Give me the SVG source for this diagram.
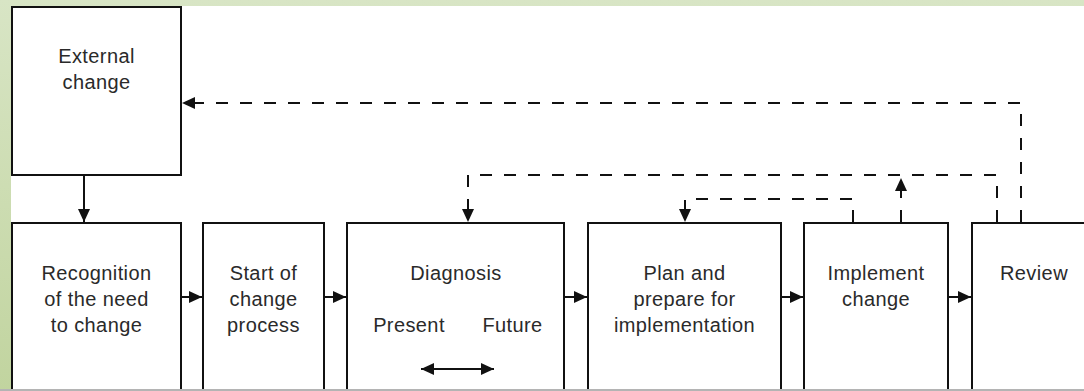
<svg xmlns="http://www.w3.org/2000/svg" width="1084" height="391" viewBox="0 0 1084 391">
  <defs>
    <linearGradient id="bg" x1="0" y1="0" x2="0" y2="1">
      <stop offset="0" stop-color="#d8e5c5"/>
      <stop offset="1" stop-color="#c1d49f"/>
    </linearGradient>
    <marker id="arr" markerUnits="userSpaceOnUse" markerWidth="13" markerHeight="12" refX="13" refY="6" orient="auto-start-reverse">
      <path d="M0,0 L13,6 L0,12 Z" fill="#111"/>
    </marker>
    <style>
      .box { fill: #fff; stroke: #111; stroke-width: 2; }
      .t { font-family: "Liberation Sans", Arial, sans-serif; font-size: 20px; letter-spacing: 0.4px; fill: #2a2a2a; text-anchor: middle; }
      .solid { fill: none; stroke: #111; stroke-width: 2; }
      .dash { fill: none; stroke: #111; stroke-width: 2; stroke-dasharray: 12 12; }
    </style>
  </defs>
  <rect x="0" y="0" width="1084" height="391" fill="url(#bg)"/>
  <rect x="11" y="6" width="1073" height="383" fill="#fff"/>

  <g id="external-change">
    <rect class="box" x="12" y="7" width="169" height="168"/>
    <text class="t" x="96.5" y="63">External</text>
    <text class="t" x="96.5" y="89">change</text>
  </g>
  <g id="recognition">
    <rect class="box" x="12" y="223" width="169" height="200"/>
    <text class="t" x="96.5" y="280">Recognition</text>
    <text class="t" x="96.5" y="306">of the need</text>
    <text class="t" x="96.5" y="332">to change</text>
  </g>
  <g id="start">
    <rect class="box" x="203" y="223" width="121" height="200"/>
    <text class="t" x="263.5" y="280">Start of</text>
    <text class="t" x="263.5" y="306">change</text>
    <text class="t" x="263.5" y="332">process</text>
  </g>
  <g id="diagnosis">
    <rect class="box" x="347" y="223" width="217" height="200"/>
    <text class="t" x="456" y="280">Diagnosis</text>
    <text class="t" x="409" y="332">Present</text>
    <text class="t" x="512.5" y="332">Future</text>
    <line class="solid" x1="421" y1="369" x2="494" y2="369" marker-start="url(#arr)" marker-end="url(#arr)"/>
  </g>
  <g id="plan">
    <rect class="box" x="588" y="223" width="193" height="200"/>
    <text class="t" x="684.5" y="280">Plan and</text>
    <text class="t" x="684.5" y="306">prepare for</text>
    <text class="t" x="684.5" y="332">implementation</text>
  </g>
  <g id="implement">
    <rect class="box" x="804" y="223" width="144" height="200"/>
    <text class="t" x="876" y="280">Implement</text>
    <text class="t" x="876" y="306">change</text>
  </g>
  <g id="review">
    <rect class="box" x="972" y="223" width="200" height="200"/>
    <text class="t" x="1034" y="280">Review</text>
  </g>

  <g id="connectors">
    <line class="solid" x1="84" y1="175" x2="84" y2="222" marker-end="url(#arr)"/>
    <line class="solid" x1="181" y1="297" x2="202" y2="297" marker-end="url(#arr)"/>
    <line class="solid" x1="324" y1="297" x2="346" y2="297" marker-end="url(#arr)"/>
    <line class="solid" x1="564" y1="297" x2="587" y2="297" marker-end="url(#arr)"/>
    <line class="solid" x1="781" y1="297" x2="803" y2="297" marker-end="url(#arr)"/>
    <line class="solid" x1="948" y1="297" x2="971" y2="297" marker-end="url(#arr)"/>
    <path class="dash" d="M1021,222 V103 H182" marker-end="url(#arr)"/>
    <path class="dash" d="M997,222 V175 H468 V222" marker-end="url(#arr)"/>
    <path class="dash" d="M853,222 V199 H685 V222" marker-end="url(#arr)"/>
    <path class="dash" d="M901,222 V178" marker-end="url(#arr)"/>
  </g>
  <rect x="0" y="389" width="1084" height="2" fill="#b4b4b4"/>
</svg>
